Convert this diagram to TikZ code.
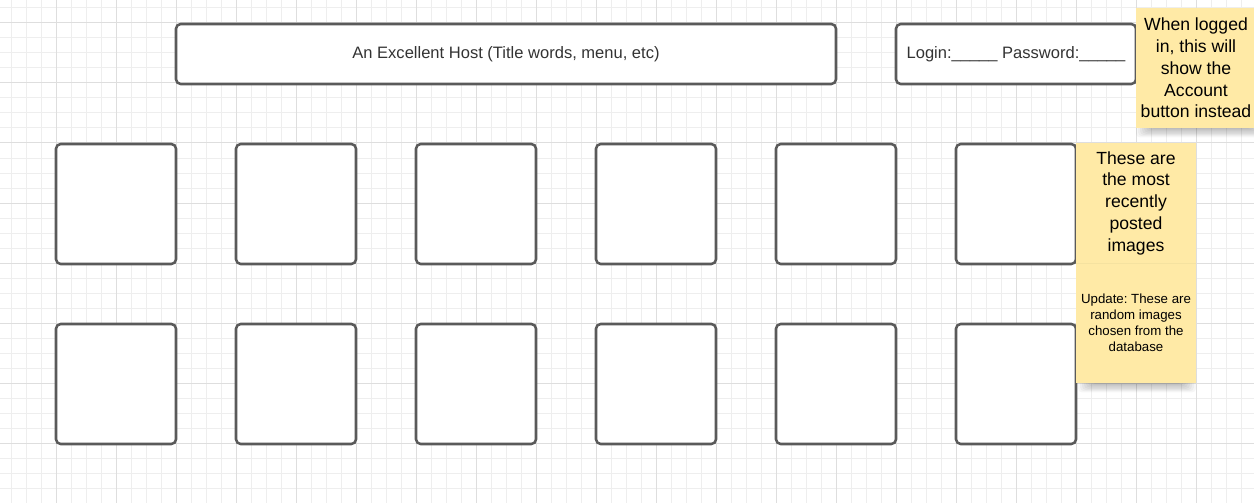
\documentclass[tikz,border=0pt]{standalone}
\usepackage{fontspec}
\setmainfont{Liberation Sans}
\definecolor{gridminor}{HTML}{EEEEEE}
\definecolor{gridmajor}{HTML}{DEDEDE}
\definecolor{boxgray}{HTML}{5A5A5A}
\definecolor{textgray}{HTML}{333333}
\definecolor{stickyfill}{HTML}{FFEAA6}
\definecolor{stickyline}{HTML}{F5E2A0}
\tikzset{
  framebox/.style={draw=boxgray, line width=1.9pt, rounded corners=3.5pt, fill=white, inner sep=0pt},
  imgbox/.style={framebox, minimum width=90pt, minimum height=90pt},
  sticky/.style={fill=stickyfill, inner sep=0pt, minimum width=90pt, minimum height=90pt},
  bigtext/.style={font=\fontsize{13.2pt}{16.3pt}\selectfont, align=center, text=black},
  smalltext/.style={font=\fontsize{9.95pt}{12pt}\selectfont\frenchspacing, align=center, text=black},
  headtext/.style={font=\fontsize{12.4pt}{14pt}\selectfont, text=textgray},
}
\begin{document}
\begin{tikzpicture}[x=0.75pt,y=-0.75pt]
\useasboundingbox (0,0) rectangle (1254,503);
\fill[white] (0,0) rectangle (1254,503);
% grid
\foreach \i in {0,...,84} \draw[gridminor, line width=0.75pt] ({11+15*\i},0) -- ({11+15*\i},503);
\foreach \i in {0,...,33} \draw[gridminor, line width=0.75pt] (0,{8+15*\i}) -- (1254,{8+15*\i});
\foreach \i in {0,...,21} \draw[gridmajor, line width=0.75pt] ({-4+60*\i},0) -- ({-4+60*\i},503);
\foreach \i in {0,...,8} \draw[gridmajor, line width=0.75pt] (0,{23+60*\i}) -- (1254,{23+60*\i});
% header boxes
\node[framebox, minimum width=495pt, minimum height=45pt, headtext] (title) at (506,54) {An Excellent Host (Title words, menu, etc)};
\node[framebox, minimum width=180pt, minimum height=45pt, headtext] (login) at (1016,54) {Login:\_\_\_\_\_\ Password:\_\_\_\_\_};
% image squares
\foreach \c [count=\n] in {116,296,476,656,836,1016}{
  \node[imgbox] (top\n) at (\c,204) {};
  \node[imgbox] (bot\n) at (\c,384) {};
}
% shadows
\foreach \k in {0,...,7}{
  \fill[black, opacity=0.035, rounded corners=3pt] ({1150-2*\k},115) rectangle ({1252+2*\k},{129+1.2*\k});
  \fill[black, opacity=0.035, rounded corners=3pt] ({1092-2*\k},370) rectangle ({1182+2*\k},{384+1.2*\k});
}
% sticky notes
\node[sticky, bigtext] (note1) at (1196,68) {When logged\\in, this will\\show the\\Account\\button instead};
\node[sticky, bigtext] (note2) at (1136,203) {These are\\the most\\recently\\posted\\images};
\node[sticky, smalltext] (note3) at (1136,323) {Update: These are\\random images\\chosen from the\\database};
\draw[stickyline, line width=0.75pt] (note2.south west) -- (note2.south east);
\end{tikzpicture}
\end{document}
